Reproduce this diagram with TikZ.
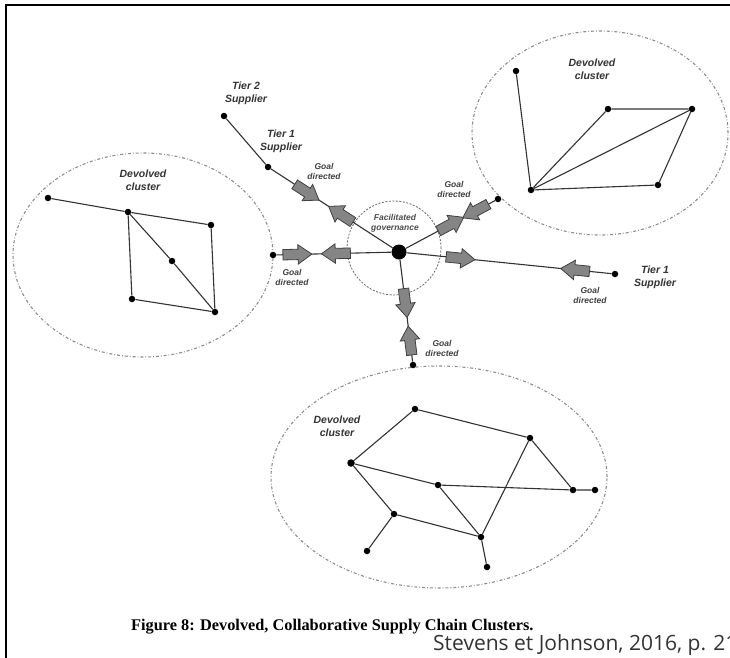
\documentclass[tikz,border=0pt]{standalone}
\usepackage{fontspec}
\setmainfont{Liberation Sans}
\newfontfamily\capfont{Liberation Serif}
\newfontfamily\credfont{Open Sans}
\usetikzlibrary{shapes.arrows}
\begin{document}
\begin{tikzpicture}[x=1pt,y=-1pt,
 dot/.style={circle,fill=black,inner sep=0pt,minimum size=6.5pt},
 hubdot/.style={circle,fill=black,inner sep=0pt,minimum size=15pt},
 link/.style={draw=black!80,line width=1.1pt},
 cluster/.style={draw=black!45,line width=1.1pt,dash pattern=on 3pt off 2pt on 0.8pt off 2pt},
 gov/.style={draw=black!60,line width=0.8pt,dash pattern=on 2pt off 1.5pt},
 garrow/.style={single arrow,draw=black!75,fill=black!48,line width=0.8pt,minimum height=29pt,single arrow head extend=4.5pt,single arrow tip angle=70,inner xsep=0pt,inner ysep=4.8pt,sloped,allow upside down,anchor=center},
 back/.style={shape border rotate=180},
 lbl/.style={font=\bfseries\itshape\fontsize{10.5}{13}\selectfont,text=black!80,align=center,inner sep=0pt},
 goal/.style={font=\bfseries\itshape\fontsize{8.5}{10}\selectfont,text=black!75,align=center,inner sep=0pt},
]
\useasboundingbox (0,0) rectangle (730,657);
\clip (0,0) rectangle (730,657);
\fill[white] (0,0) rectangle (730,657);
% frame
\draw[line width=2.6pt] (6,665) -- (6,5) -- (740,5);

% clusters
\draw[cluster] (600,133) ellipse [x radius=128pt, y radius=102pt];
\draw[cluster] (143,255) ellipse [x radius=130pt, y radius=102pt];
\draw[cluster] (439,477) ellipse [x radius=168pt, y radius=111pt];
\draw[gov] (394,248) circle [radius=47pt];

% hub and branches
\node[hubdot] (hub) at (399,252) {};
\node[dot] (t1a) at (268,167) {};
\node[dot] (t2) at (224,116) {};
\node[dot] (lend) at (273,255) {};
\node[dot] (urend) at (498,199) {};
\node[dot] (t1b) at (615,274) {};
\node[dot] (dend) at (413,365) {};

\draw[link] (hub) -- (t1a) -- (t2);
\draw[link] (hub) -- (lend);
\draw[link] (hub) -- (urend);
\draw[link] (hub) -- (t1b);
\draw[link] (hub) -- (dend);

\path (hub) -- (t1a) node[garrow,pos=0.40] {} node[garrow,back,pos=0.73] {};
\path (hub) -- (lend) node[garrow,pos=0.45] {} node[garrow,back,pos=0.85] {};
\path (hub) -- (urend) node[garrow,pos=0.47] {} node[garrow,back,pos=0.82] {};
\path (hub) -- (t1b) node[garrow,pos=0.245] {} node[garrow,back,pos=0.84] {};
\path (hub) -- (dend) node[garrow,pos=0.39] {} node[garrow,back,pos=0.83] {};

% labels
\node[lbl] (lt2) at (246,93) {Tier 2\\Supplier};
\node[lbl] (lt1a) at (281,141) {Tier 1\\Supplier};
\node[lbl] (lt1b) at (655,277) {Tier 1\\Supplier};
\node[goal] (g1) at (324,171) {Goal\\directed};
\node[goal] (g2) at (292,277) {Goal\\directed};
\node[goal] (g3) at (454,189) {Goal\\directed};
\node[goal] (g4) at (590,295) {Goal\\directed};
\node[goal] (g5) at (442,348) {Goal\\directed};
\node[goal,text=black!70] (fg) at (395,223) {Facilitated\\governance};

% upper-right cluster
\node[lbl] (lur) at (592,69) {Devolved\\cluster};
\node[dot] (a1) at (516,71) {};
\node[dot] (a2) at (608,109) {};
\node[dot] (a3) at (692,109) {};
\node[dot] (a4) at (531,190) {};
\node[dot] (a5) at (658,185) {};
\draw[link] (a1) -- (a4);
\draw[link] (a4) -- (a2) -- (a3) -- (a5) -- (a4) -- (a3);

% left cluster
\node[lbl] (ll) at (143,180) {Devolved\\cluster};
\node[dot] (b1) at (48,198) {};
\node[dot] (b2) at (128,212) {};
\node[dot] (b3) at (211,225) {};
\node[dot] (b4) at (172,261) {};
\node[dot] (b5) at (132,299) {};
\node[dot] (b6) at (215,312) {};
\draw[link] (b1) -- (b2) -- (b3) -- (b6) -- (b5) -- (b2) -- (b4) -- (b6);

% bottom cluster
\node[lbl] (lb) at (337,426) {Devolved\\cluster};
\node[dot] (c1) at (415,409) {};
\node[dot] (c2) at (530,438) {};
\node[dot,minimum size=7.5pt] (c3) at (351,463) {};
\node[dot] (c4) at (438,485) {};
\node[dot] (c5) at (573,490) {};
\node[dot] (c6) at (595,490) {};
\node[dot] (c7) at (394,514) {};
\node[dot] (c8) at (481,537) {};
\node[dot] (c9) at (367,551) {};
\node[dot] (c10) at (487,567) {};
\draw[link] (c3) -- (c1) -- (c2) -- (c5) -- (c6);
\draw[link] (c3) -- (c4) -- (c5);
\draw[link] (c4) -- (c8) -- (c2);
\draw[link] (c3) -- (c7) -- (c8) -- (c10);
\draw[link] (c7) -- (c9);

% caption
\node[anchor=base west,inner sep=0pt,font=\capfont\bfseries\fontsize{16.3}{18}\selectfont] (cap) at (131,630) {Figure 8: Devolved, Collaborative Supply Chain Clusters.};
\node[anchor=base west,inner sep=0pt,text=black!80,font=\credfont\fontsize{21}{24}\selectfont] (cred) at (433,650) {Stevens et Johnson, 2016, p. 21};
\end{tikzpicture}
\end{document}
